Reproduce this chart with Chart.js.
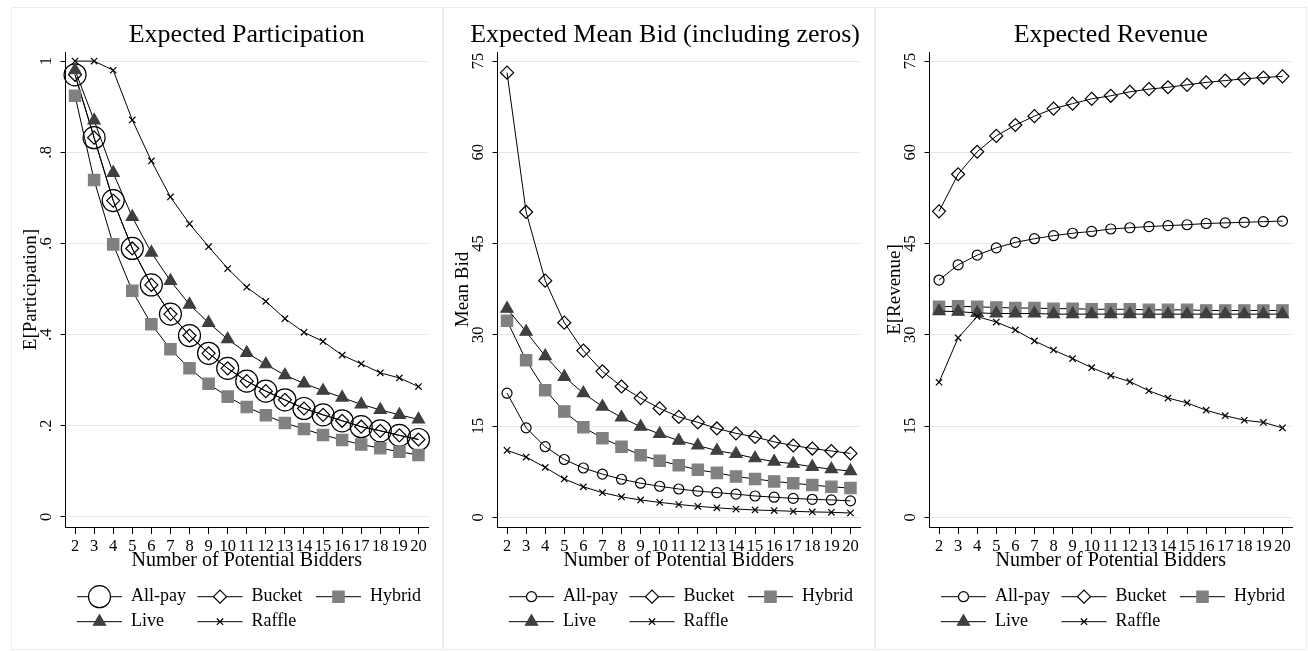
<!DOCTYPE html>
<html>
<head>
<meta charset="utf-8">
<script src="https://cdn.jsdelivr.net/npm/chart.js"></script>
<style>
  body { margin: 0; background: #fff; }
  .box { position: absolute; top: 7px; width: 432px; height: 643px; box-sizing: border-box; border: 1px solid #ececec; }
  canvas { position: absolute; top: 7px; }
</style>
</head>
<body>
<div class="box" style="left:11px"></div>
<div class="box" style="left:443px"></div>
<div class="box" style="left:875px"></div>
<canvas id="c1" width="432" height="643" style="left:11px"></canvas>
<canvas id="c2" width="432" height="643" style="left:443px"></canvas>
<canvas id="c3" width="432" height="643" style="left:875px"></canvas>
<script>
// number of potential bidders
const bidders = [2, 3, 4, 5, 6, 7, 8, 9, 10, 11, 12, 13, 14, 15, 16, 17, 18, 19, 20];
const seriesNames = ['All-pay', 'Bucket', 'Hybrid', 'Live', 'Raffle'];

// Expected Participation
const allpayPart = [0.970, 0.832, 0.694, 0.589, 0.509, 0.445, 0.398, 0.359, 0.326, 0.298, 0.276, 0.257, 0.238, 0.224, 0.211, 0.198, 0.189, 0.179, 0.170];
const bucketPart = [0.970, 0.832, 0.694, 0.589, 0.509, 0.445, 0.398, 0.359, 0.326, 0.298, 0.276, 0.257, 0.238, 0.224, 0.211, 0.198, 0.189, 0.179, 0.170];
const hybridPart = [0.924, 0.739, 0.598, 0.496, 0.423, 0.368, 0.326, 0.292, 0.264, 0.241, 0.223, 0.206, 0.193, 0.180, 0.169, 0.159, 0.151, 0.143, 0.136];
const livePart = [0.980, 0.870, 0.755, 0.658, 0.580, 0.518, 0.466, 0.426, 0.390, 0.360, 0.335, 0.311, 0.293, 0.277, 0.262, 0.247, 0.235, 0.224, 0.214];
const rafflePart = [1.000, 1.000, 0.980, 0.871, 0.781, 0.702, 0.643, 0.593, 0.545, 0.504, 0.473, 0.435, 0.405, 0.385, 0.355, 0.336, 0.316, 0.305, 0.286];

// Expected Mean Bid (including zeros)
const allpayBid = [20.4, 14.7, 11.6, 9.5, 8.1, 7.1, 6.25, 5.6, 5.1, 4.65, 4.3, 4.05, 3.8, 3.5, 3.3, 3.1, 2.95, 2.85, 2.7];
const bucketBid = [73.1, 50.2, 38.9, 32.0, 27.4, 24.0, 21.5, 19.6, 17.9, 16.5, 15.6, 14.6, 13.8, 13.2, 12.4, 11.8, 11.3, 10.9, 10.5];
const hybridBid = [32.3, 25.8, 20.9, 17.4, 14.8, 13.0, 11.6, 10.2, 9.3, 8.55, 7.8, 7.3, 6.7, 6.3, 5.9, 5.6, 5.3, 5.0, 4.8];
const liveBid = [34.3, 30.5, 26.5, 23.1, 20.4, 18.2, 16.4, 14.9, 13.7, 12.6, 11.8, 10.95, 10.4, 9.7, 9.15, 8.8, 8.3, 7.9, 7.6];
const raffleBid = [11.0, 9.9, 8.2, 6.3, 5.0, 4.05, 3.35, 2.85, 2.45, 2.1, 1.8, 1.55, 1.35, 1.2, 1.1, 0.98, 0.88, 0.82, 0.7];

// Expected Revenue
const allpayRev = [39.0, 41.5, 43.1, 44.3, 45.2, 45.8, 46.3, 46.7, 47.0, 47.4, 47.6, 47.8, 47.95, 48.1, 48.3, 48.4, 48.5, 48.6, 48.7];
const bucketRev = [50.3, 56.4, 60.1, 62.7, 64.5, 65.95, 67.2, 68.0, 68.8, 69.3, 69.95, 70.4, 70.7, 71.1, 71.5, 71.8, 72.1, 72.3, 72.5];
const hybridRev = [34.6, 34.7, 34.6, 34.5, 34.4, 34.4, 34.3, 34.3, 34.2, 34.2, 34.2, 34.1, 34.1, 34.1, 34.0, 34.0, 34.0, 34.0, 34.0];
const liveRev = [33.9, 33.8, 33.6, 33.5, 33.5, 33.5, 33.4, 33.4, 33.4, 33.4, 33.4, 33.4, 33.4, 33.4, 33.4, 33.4, 33.4, 33.4, 33.4];
const raffleRev = [22.2, 29.5, 33.0, 32.1, 30.8, 29.0, 27.5, 26.1, 24.6, 23.3, 22.3, 20.8, 19.6, 18.8, 17.6, 16.7, 15.95, 15.6, 14.7];

// y tick values and labels
const partTicks = [0, 0.2, 0.4, 0.6, 0.8, 1];
const partTickLabels = ['0', '.2', '.4', '.6', '.8', '1'];
const moneyTicks = [0, 15, 30, 45, 60, 75];
const moneyTickLabels = ['0', '15', '30', '45', '60', '75'];

const FONT = "'Liberation Serif', 'DejaVu Serif', serif";

// title centred over the plot region, pushed left if it would run past the edge
const plotTitle = {
    id: 'plotTitle',
    afterDraw(chart, args, opts) {
        const ctx = chart.ctx;
        const area = chart.chartArea;
        ctx.save();
        ctx.font = '26px ' + FONT;
        ctx.fillStyle = '#000';
        ctx.textAlign = 'center';
        ctx.textBaseline = 'middle';
        const w = ctx.measureText(opts.text).width;
        let cx = (area.left + area.right) / 2;
        if (cx + w / 2 > area.right) cx = area.right - w / 2;
        ctx.fillText(opts.text, cx, 28);
        ctx.restore();
    }
};

// legend drawn like Stata: line with marker, 3 columns
const stataLegend = {
    id: 'stataLegend',
    afterDraw(chart) {
        const ctx = chart.ctx;
        const cols = [66, 186.5, 305];
        const rows = [589.7, 614.7];
        chart.data.datasets.forEach((ds, i) => {
            const x0 = cols[i % 3];
            const y = rows[Math.floor(i / 3)];
            ctx.save();
            ctx.strokeStyle = '#000';
            ctx.lineWidth = 1;
            ctx.beginPath();
            ctx.moveTo(x0, y);
            ctx.lineTo(x0 + 45, y);
            ctx.stroke();
            ctx.fillStyle = ds.legendFill;
            ctx.strokeStyle = ds.pointBorderColor;
            ctx.lineWidth = ds.pointBorderWidth;
            Chart.helpers.drawPoint(ctx, {
                pointStyle: ds.pointStyle,
                radius: ds.pointRadius,
                borderWidth: ds.pointBorderWidth,
                rotation: 0
            }, x0 + 22.5, y);
            ctx.fillStyle = '#000';
            ctx.font = '18px ' + FONT;
            ctx.textAlign = 'left';
            ctx.textBaseline = 'middle';
            ctx.fillText(ds.label, x0 + 54, y);
            ctx.restore();
        });
    }
};

function points(values) {
    return bidders.map((b, i) => ({ x: b, y: values[i] }));
}

function makeDatasets(values, circleRadius) {
    const looks = [
        { pointStyle: 'circle', pointRadius: circleRadius, bg: 'rgba(0,0,0,0)', border: '#000', legendFill: '#fff' },
        { pointStyle: 'rectRot', pointRadius: 6.5, bg: 'rgba(0,0,0,0)', border: '#000', legendFill: '#fff' },
        { pointStyle: 'rect', pointRadius: 8, bg: '#808080', border: '#808080', legendFill: '#808080' },
        { pointStyle: 'triangle', pointRadius: 7, bg: '#3f3f3f', border: '#3f3f3f', legendFill: '#3f3f3f' },
        { pointStyle: 'crossRot', pointRadius: 4.5, bg: '#000', border: '#000', legendFill: '#000' }
    ];
    return values.map((v, i) => ({
        label: seriesNames[i],
        data: points(v),
        borderColor: '#000',
        borderWidth: 1,
        tension: 0,
        pointStyle: looks[i].pointStyle,
        pointRadius: looks[i].pointRadius,
        pointBackgroundColor: looks[i].bg,
        pointBorderColor: looks[i].border,
        pointBorderWidth: 1.2,
        legendFill: looks[i].legendFill,
        order: 5 - i,
        clip: false
    }));
}

function makePanel(id, title, yTitle, datasets, yMin, yMax, yTicks, yLabels, yPad) {
    const ctx = document.getElementById(id).getContext('2d');
    return new Chart(ctx, {
        type: 'line',
        data: { datasets: datasets },
        options: {
            responsive: false,
            animation: false,
            events: [],
            layout: { padding: { left: 0, right: 15, top: 45, bottom: 73 } },
            plugins: {
                legend: { display: false },
                tooltip: { enabled: false },
                title: { display: false },
                plotTitle: { text: title }
            },
            scales: {
                x: {
                    type: 'linear',
                    min: 1.5,
                    max: 20.5,
                    afterBuildTicks: (scale) => { scale.ticks = bidders.map(v => ({ value: v })); },
                    afterFit: (scale) => { scale.height = 50; },
                    grid: { drawOnChartArea: false, drawTicks: true, tickLength: 7, tickColor: '#000' },
                    border: { display: true, color: '#000', width: 1 },
                    ticks: {
                        autoSkip: false, minRotation: 0, maxRotation: 0, padding: 3, color: '#000',
                        font: { family: FONT, size: 16.5 }
                    },
                    title: {
                        display: true, text: 'Number of Potential Bidders', color: '#000',
                        font: { family: FONT, size: 20 }, padding: { top: 0, bottom: 4 }
                    }
                },
                y: {
                    type: 'linear',
                    min: yMin,
                    max: yMax,
                    afterBuildTicks: (scale) => { scale.ticks = yTicks.map(v => ({ value: v })); },
                    afterFit: (scale) => { scale.width = 54.5; },
                    grid: { color: '#e8e8e8', lineWidth: 1, drawTicks: true, tickLength: 5, tickColor: '#000' },
                    border: { display: true, color: '#000', width: 1 },
                    ticks: {
                        minRotation: 90, maxRotation: 90, crossAlign: 'center', padding: yPad, color: '#000',
                        font: { family: FONT, size: 16.5 },
                        callback: (value) => yLabels[yTicks.indexOf(value)]
                    },
                    title: {
                        display: true, text: yTitle, color: '#000',
                        font: { family: FONT, size: 19 }, padding: { top: 9, bottom: 0 }
                    }
                }
            }
        },
        plugins: [plotTitle, stataLegend]
    });
}

document.addEventListener('DOMContentLoaded', () => {
    makePanel('c1', 'Expected Participation', 'E[Participation]',
        makeDatasets([allpayPart, bucketPart, hybridPart, livePart, rafflePart], 11),
        -0.022, 1.02, partTicks, partTickLabels, 8);
    makePanel('c2', 'Expected Mean Bid (including zeros)', 'Mean Bid',
        makeDatasets([allpayBid, bucketBid, hybridBid, liveBid, raffleBid], 5),
        -1.6, 76.5, moneyTicks, moneyTickLabels, 6);
    makePanel('c3', 'Expected Revenue', 'E[Revenue]',
        makeDatasets([allpayRev, bucketRev, hybridRev, liveRev, raffleRev], 5),
        -1.6, 76.5, moneyTicks, moneyTickLabels, 6);
});
</script>
</body>
</html>
